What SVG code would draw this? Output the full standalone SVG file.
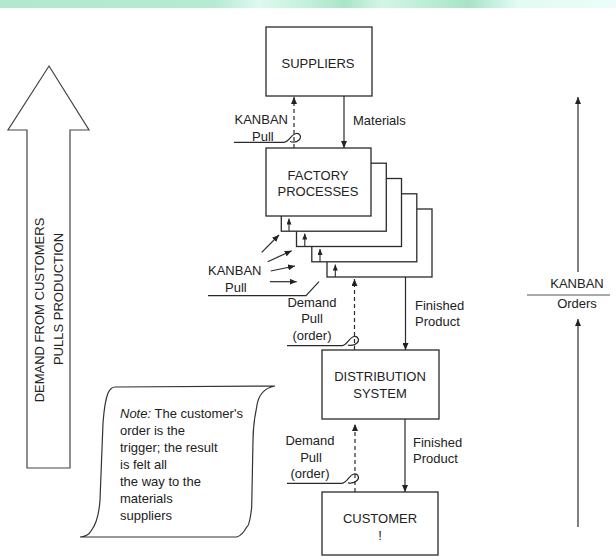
<svg xmlns="http://www.w3.org/2000/svg" width="616" height="560" viewBox="0 0 616 560">
  <defs>
    <linearGradient id="band" x1="0" y1="0" x2="1" y2="0">
      <stop offset="0" stop-color="#b1e8cf"/>
      <stop offset="0.35" stop-color="#b6ebd3"/>
      <stop offset="0.42" stop-color="#dff9f0"/>
      <stop offset="0.5" stop-color="#c2f0db"/>
      <stop offset="0.56" stop-color="#a9e5c8"/>
      <stop offset="0.62" stop-color="#d3f6e7"/>
      <stop offset="0.7" stop-color="#b9edd5"/>
      <stop offset="0.76" stop-color="#a8e3c7"/>
      <stop offset="0.84" stop-color="#e2fbf3"/>
      <stop offset="1" stop-color="#ecfdf9"/>
    </linearGradient>
    <marker id="ah" viewBox="0 0 7 6" refX="7" refY="3" markerWidth="7" markerHeight="6" markerUnits="userSpaceOnUse" orient="auto">
      <path d="M0,0 L7,3 L0,6 Z" fill="#222"/>
    </marker>
    <marker id="ahs" viewBox="0 0 6 5" refX="6" refY="2.5" markerWidth="6" markerHeight="5" markerUnits="userSpaceOnUse" orient="auto">
      <path d="M0,0 L6,2.5 L0,5 Z" fill="#222"/>
    </marker>
  </defs>
  <style>
    .box { fill: #fff; stroke: #2a2a2a; stroke-width: 1.3; }
    .ln { fill: none; stroke: #2a2a2a; stroke-width: 1.2; }
    .arr { fill: none; stroke: #2a2a2a; stroke-width: 1.2; marker-end: url(#ah); }
    .sarr { fill: none; stroke: #2a2a2a; stroke-width: 1.1; marker-end: url(#ahs); }
    .dash { fill: none; stroke: #2a2a2a; stroke-width: 1.2; stroke-dasharray: 4 3; marker-end: url(#ah); }
    .thin { fill: none; stroke: #555; stroke-width: 1; }
    text { font-family: "Liberation Sans", Arial, sans-serif; font-size: 13px; fill: #222; }
    .c { text-anchor: middle; }
    .r { text-anchor: end; }
  </style>

  <rect width="616" height="560" fill="#fff"/>
  <rect x="0" y="0" width="616" height="8" fill="url(#band)"/>

  <!-- big hollow arrow on the left -->
  <g id="demand-arrow">
    <path d="M49,66 L89,130 L70,130 L70,468 L27,468 L27,130 L8,130 Z" fill="#fff" stroke="#444" stroke-width="1.2"/>
    <text class="c" transform="translate(44,310) rotate(-90)">DEMAND FROM CUSTOMERS</text>
    <text class="c" transform="translate(63,299) rotate(-90)">PULLS PRODUCTION</text>
  </g>

  <!-- note scroll -->
  <g id="note">
    <path d="M115,387 L275,386 C264,388 258,396 256.7,407 C254,420 253,430 253,440 L251.7,507 C250.5,518 249,526 246.7,527 C244,532 241,536 236.7,537 L80,537 C84,536.5 89,535 91,531 C95,526 99,515 100,500 L103,423 C104,410 106,398 108,393 C110,389 112,387 115,387 Z" fill="#fff" stroke="#333" stroke-width="1.2"/>
    <text x="120" y="418"><tspan font-style="italic">Note:</tspan> The customer's</text>
    <text x="120" y="435">order is the</text>
    <text x="120" y="452">trigger; the result</text>
    <text x="120" y="469">is felt all</text>
    <text x="120" y="486">the way to the</text>
    <text x="120" y="503">materials</text>
    <text x="120" y="520">suppliers</text>
  </g>

  <!-- nodes -->
  <g id="suppliers">
    <rect class="box" x="266" y="27" width="106" height="69"/>
    <text class="c" x="318" y="67.5">SUPPLIERS</text>
  </g>

  <g id="factory">
    <rect class="box" x="327" y="209" width="105" height="68"/>
    <rect class="box" x="311.8" y="193.8" width="105" height="68"/>
    <rect class="box" x="296.5" y="178.5" width="105" height="68"/>
    <rect class="box" x="281.3" y="163.2" width="105" height="68"/>
    <rect class="box" x="266" y="148" width="105" height="68"/>
    <text class="c" x="318" y="179.5">FACTORY</text>
    <text class="c" x="318" y="195.5">PROCESSES</text>
  </g>

  <g id="distribution">
    <rect class="box" x="322" y="350" width="117" height="69"/>
    <text class="c" x="380" y="380.5">DISTRIBUTION</text>
    <text class="c" x="380" y="398">SYSTEM</text>
  </g>

  <g id="customer">
    <rect class="box" x="322" y="492" width="116" height="63"/>
    <text class="c" x="380" y="522.5">CUSTOMER</text>
    <text class="c" x="380" y="540">!</text>
  </g>

  <!-- connectors -->
  <g id="connectors">
    <!-- suppliers / factory -->
    <line class="dash" x1="294" y1="148" x2="294" y2="97"/>
    <line class="arr" x1="344" y1="96" x2="344" y2="148"/>
    <path class="ln" d="M234,142.3 H284 C289,142.3 291,134.5 296,133.5 C300,133 302,137 299,140 C297,142 293,142.3 290,141.5"/>

    <!-- small arrows inside the stacked process boxes -->
    <line class="sarr" x1="289" y1="231" x2="289" y2="218.5"/>
    <line class="sarr" x1="304.8" y1="246.5" x2="304.8" y2="233.5"/>
    <line class="sarr" x1="320" y1="261.8" x2="320" y2="249"/>
    <line class="sarr" x1="335.3" y1="277" x2="335.3" y2="264.5"/>

    <!-- kanban pull arrows -->
    <line class="arr" x1="261.7" y1="252.3" x2="279" y2="235"/>
    <line class="arr" x1="267.7" y1="261.7" x2="291.7" y2="250.7"/>
    <line class="arr" x1="270.7" y1="271" x2="295" y2="266"/>
    <line class="arr" x1="270" y1="281.7" x2="296.7" y2="281.7"/>
    <path class="ln" d="M208,295.7 H306 L319,281.7"/>

    <!-- factory / distribution -->
    <line class="dash" x1="354.5" y1="350" x2="354.5" y2="279"/>
    <path class="ln" d="M287,345.7 H342 C347,345.7 349,337.5 354,336.5 C358,336 360,340 357,343 C355,345 351,345.7 348,345.2"/>
    <line class="arr" x1="405.5" y1="277" x2="405.5" y2="350"/>

    <!-- distribution / customer -->
    <line class="dash" x1="355" y1="492" x2="355" y2="424"/>
    <path class="ln" d="M287,483.3 H342 C347,483.3 349,475 354,474 C358,473.5 360,477.5 357,480.5 C355,482.7 351,483.3 348,482.8"/>
    <line class="arr" x1="405" y1="419" x2="405" y2="492"/>

    <!-- right-hand kanban / orders scale -->
    <line class="arr" x1="578" y1="272" x2="578" y2="97"/>
    <line class="thin" x1="527" y1="295" x2="610" y2="295"/>
    <line class="arr" x1="578" y1="527" x2="578" y2="319"/>
  </g>

  <!-- connector labels -->
  <g id="labels">
    <text class="r" x="288" y="124">KANBAN</text>
    <text x="252" y="140.5">Pull</text>
    <text x="353" y="124.5">Materials</text>

    <text x="208" y="274.5">KANBAN</text>
    <text x="225" y="291.5">Pull</text>

    <text class="c" x="312" y="307">Demand</text>
    <text class="c" x="312" y="323">Pull</text>
    <text class="c" x="312" y="339.5">(order)</text>
    <text x="415" y="309.5">Finished</text>
    <text x="415" y="325.5">Product</text>

    <text class="c" x="310" y="445">Demand</text>
    <text class="c" x="311" y="461.5">Pull</text>
    <text class="c" x="310" y="477.5">(order)</text>
    <text x="413" y="447">Finished</text>
    <text x="413" y="463">Product</text>

    <text class="c" x="577" y="288">KANBAN</text>
    <text class="c" x="577" y="308">Orders</text>
  </g>
</svg>
